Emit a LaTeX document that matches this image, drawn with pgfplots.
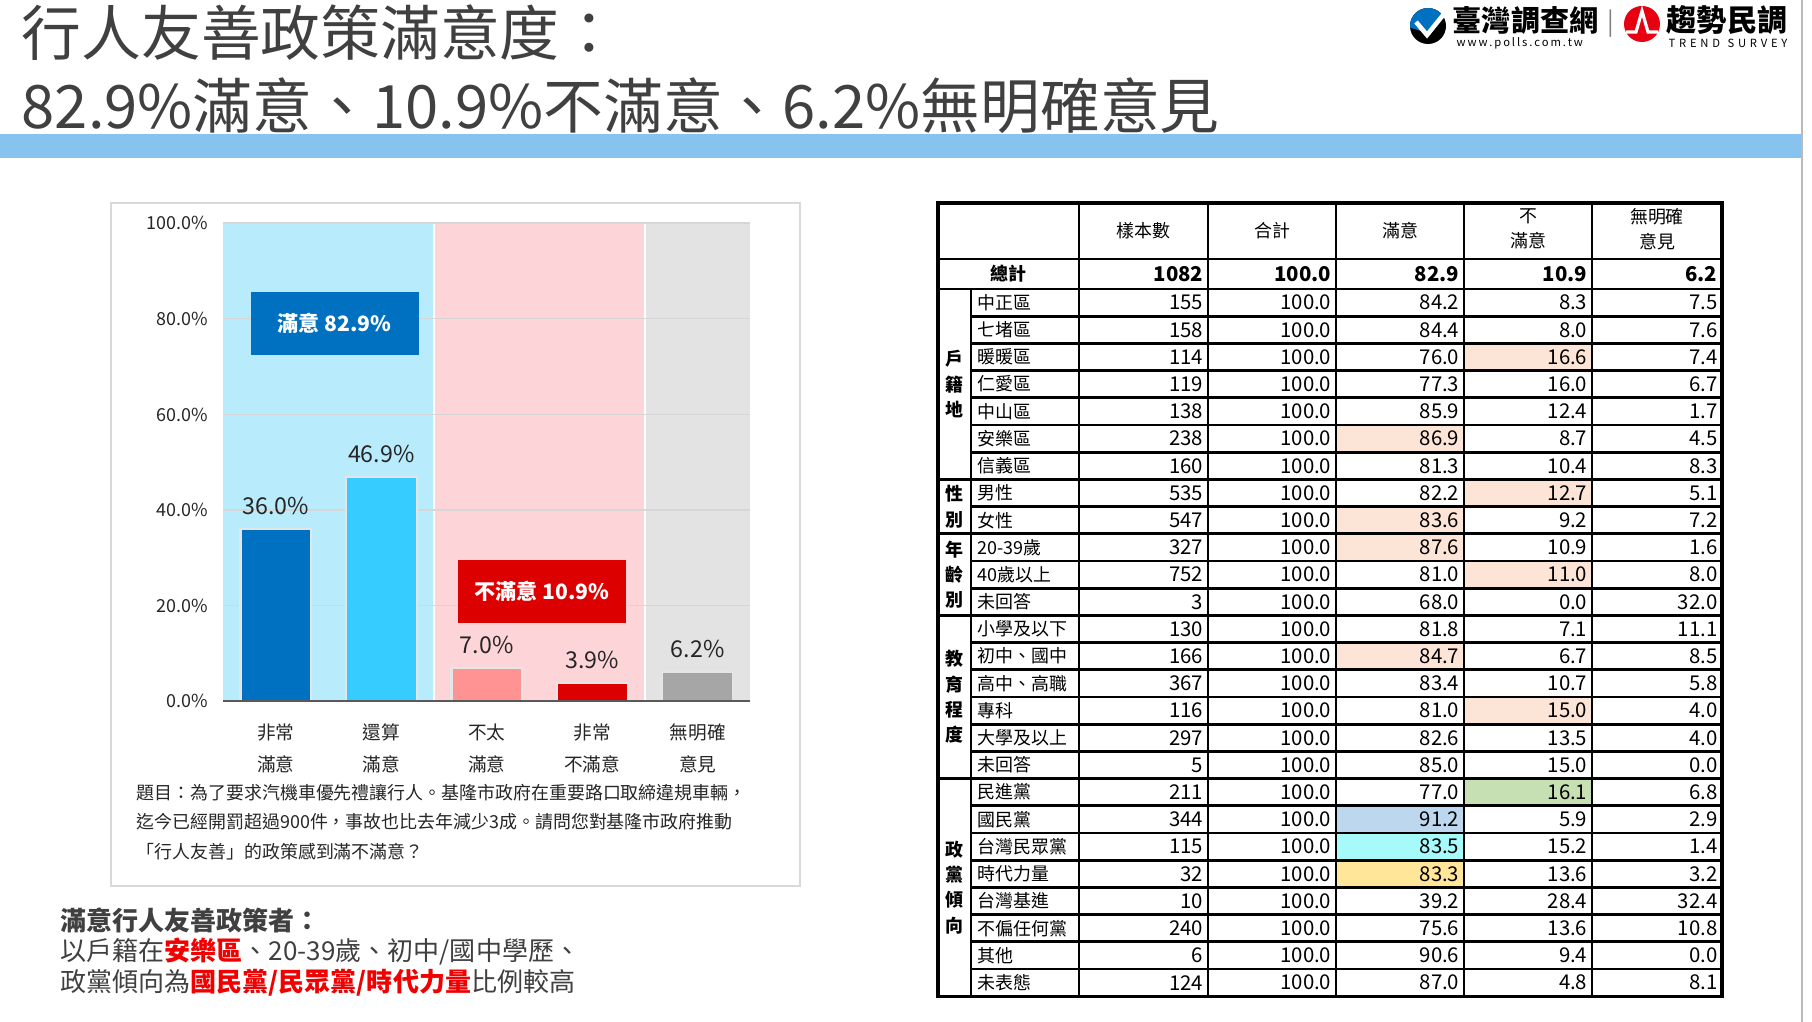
\documentclass[border=0pt]{standalone}
\usepackage{fontspec}
\setmainfont{Noto Sans CJK TC}
\usepackage{pgfplots}
\pgfplotsset{compat=1.18}
\definecolor{titlegray}{HTML}{404040}
\definecolor{band}{HTML}{87C3EE}
\definecolor{cA}{HTML}{0070C0}
\definecolor{cB}{HTML}{37CCFF}
\definecolor{cC}{HTML}{FF9393}
\definecolor{cD}{HTML}{DD0000}
\definecolor{cE}{HTML}{A6A6A6}
\definecolor{bgA}{HTML}{B8ECFC}
\definecolor{bgB}{HTML}{FDD5D8}
\definecolor{bgC}{HTML}{E3E3E3}
\definecolor{gridc}{HTML}{D6D6D6}
\definecolor{peach}{HTML}{FCE4D6}
\definecolor{hlgreen}{HTML}{C6E0B4}
\definecolor{hlblue}{HTML}{BDD7EE}
\definecolor{hlcyan}{HTML}{A6FAFA}
\definecolor{hlyellow}{HTML}{FFE699}
\definecolor{hired}{HTML}{F00000}
\definecolor{logored}{HTML}{E60012}
\newcommand\fs[2]{\fontsize{#1}{#2}\selectfont}
\newcommand\hl[4]{\fill[#4] (#2,{289+(#1-1)*27.2}) rectangle (#3,{289+#1*27.2});}
\begin{document}
\begin{tikzpicture}
\begin{scope}[x=0.01cm,y=-0.01cm]
\path[use as bounding box] (0,0) rectangle (1812,1022);
\fill[white] (0,0) rectangle (1812,1022);
% titles
\node[anchor=west, inner sep=0pt, text=titlegray, font=\fs{17}{20}] at (21,33) {行人友善政策滿意度：};
\node[anchor=west, inner sep=0pt, text=titlegray, font=\fs{17}{20}] at (21,106) {82.9\%滿意、10.9\%不滿意、6.2\%無明確意見};
\fill[band] (0,134) rectangle (1801,158);
\draw[gray!55, line width=0.6pt] (1802,0) -- (1802,1022);
% logo
\fill[black] (1428,26) circle (18);
\begin{scope}
\clip (1428,26) circle (18);
\fill[cA] (1405,0) -- (1455,0) -- (1446,16) -- (1427,33) -- (1405,26) -- cycle;
\end{scope}
\draw[white, line width=1.3pt] (1416,22) -- (1427,35) -- (1452,4);
\node[anchor=west, inner sep=0pt, font=\fs{8.3}{9}\bfseries] at (1452,20) {臺灣調查網};
\node[anchor=west, inner sep=0pt, font=\fs{3.2}{4}] at (1456,43) {w\,w\,w\,.\,p\,o\,l\,l\,s\,.\,c\,o\,m\,.\,t\,w};
\node[inner sep=0pt, text=gray, font=\fs{7}{8}] at (1611,24) {|};
\fill[logored] (1642,24) circle (18);
\draw[white, line width=0.9pt] (1626,32) -- (1636,32) -- (1642,11) -- (1648,32) -- (1658,32);
\node[anchor=west, inner sep=0pt, font=\fs{8.6}{9}\bfseries] at (1666,20) {趨勢民調};
\node[anchor=west, inner sep=0pt, font=\fs{3.2}{4}] at (1668,43) {T\,\,R\,\,E\,\,N\,\,D\,\,\,\,S\,\,U\,\,R\,\,V\,\,E\,\,Y};
% chart box
\draw[gray!30, line width=0.6pt] (111,203) rectangle (800,886);
\end{scope}

\begin{axis}[
  at={(2.23cm,-7.01cm)}, anchor=south west,
  scale only axis, width=5.27cm, height=4.78cm,
  xmin=-0.5, xmax=4.5, ymin=0, ymax=100,
  axis line style={draw=none}, tick style={draw=none},
  clip=false,
  ytick={0,20,40,60,80,100},
  yticklabels={0.0\%,20.0\%,40.0\%,60.0\%,80.0\%,100.0\%},
  yticklabel style={font=\fs{5.1}{6}, text=black!85, xshift=-0.03cm},
  xtick={0,1,2,3,4},
  xticklabels={{非常\\滿意},{還算\\滿意},{不太\\滿意},{非常\\不滿意},{無明確\\意見}},
  xticklabel style={align=center, font=\fs{5.3}{9.1}, text=black!85, yshift=0.05cm},
  ybar, bar width=0.67,
  /pgf/number format/assume math mode=true,
  nodes near coords={\pgfmathprintnumber[fixed,fixed zerofill,precision=1]{\pgfplotspointmeta}\%},
  every node near coord/.append style={font=\fs{6.6}{7}, text=black!85, anchor=south, inner sep=0pt, yshift=0.13cm},
]
\fill[bgA] (axis cs:-0.5,0) rectangle (axis cs:1.5,100);
\fill[bgB] (axis cs:1.5,0) rectangle (axis cs:3.5,100);
\fill[bgC] (axis cs:3.5,0) rectangle (axis cs:4.5,100);
\draw[white, line width=0.5pt] (axis cs:1.5,0) -- (axis cs:1.5,100);
\draw[white, line width=0.5pt] (axis cs:3.5,0) -- (axis cs:3.5,100);
\draw[gridc, line width=0.4pt] (axis cs:-0.5,20) -- (axis cs:4.5,20);
\draw[gridc, line width=0.4pt] (axis cs:-0.5,40) -- (axis cs:4.5,40);
\draw[gridc, line width=0.4pt] (axis cs:-0.5,60) -- (axis cs:4.5,60);
\draw[gridc, line width=0.4pt] (axis cs:-0.5,80) -- (axis cs:4.5,80);
\draw[gridc, line width=0.4pt] (axis cs:-0.5,100) -- (axis cs:4.5,100);
\addplot[fill=cA, draw=white!90!black, line width=0.6pt, bar shift=0pt] coordinates {(0,36.0)};
\addplot[fill=cB, draw=white!90!black, line width=0.6pt, bar shift=0pt] coordinates {(1,46.9)};
\addplot[fill=cC, draw=white!90!black, line width=0.6pt, bar shift=0pt] coordinates {(2,7.0)};
\addplot[fill=cD, draw=white!90!black, line width=0.6pt, bar shift=0pt] coordinates {(3,3.9)};
\addplot[fill=cE, draw=white!90!black, line width=0.6pt, bar shift=0pt] coordinates {(4,6.2)};
\draw[black!65, line width=0.6pt] (axis cs:-0.5,0) -- (axis cs:4.5,0);
\node[fill=cA, text=white, font=\fs{6}{7}\bfseries, minimum width=1.68cm, minimum height=0.63cm, inner sep=0pt] at (axis cs:0.558,79.1) {滿意 82.9\%};
\node[fill=cD, text=white, font=\fs{6}{7}\bfseries, minimum width=1.68cm, minimum height=0.63cm, inner sep=0pt] at (axis cs:2.521,22.95) {不滿意 10.9\%};
\end{axis}

\begin{scope}[x=0.01cm,y=-0.01cm]
% question
\node[anchor=west, inner sep=0pt, font=\fs{5.1}{6}, text=black!85] at (136,793) {題目：為了要求汽機車優先禮讓行人。基隆市政府在重要路口取締違規車輛，};
\node[anchor=west, inner sep=0pt, font=\fs{5.1}{6}, text=black!85] at (136,822) {迄今已經開罰超過900件，事故也比去年減少3成。請問您對基隆市政府推動};
\node[anchor=west, inner sep=0pt, font=\fs{5.1}{6}, text=black!85] at (136,852) {「行人友善」的政策感到滿不滿意？};
% bottom text
\node[anchor=west, inner sep=0pt, font=\fs{7.4}{8}\bfseries, text=titlegray] at (60,920) {滿意行人友善政策者：};
\node[anchor=west, inner sep=0pt, font=\fs{7.4}{8}, text=titlegray] at (60,952) {以戶籍在{\color{hired}\bfseries 安樂區}、20-39歲、初中/國中學歷、};
\node[anchor=west, inner sep=0pt, font=\fs{7.4}{8}, text=titlegray] at (60,983) {政黨傾向為{\color{hired}\bfseries 國民黨/民眾黨/時代力量}比例較高};

% table highlights
\hl{3}{1464}{1592}{peach}
\hl{6}{1336}{1464}{peach}
\hl{8}{1464}{1592}{peach}
\hl{9}{1336}{1464}{peach}
\hl{10}{1336}{1464}{peach}
\hl{11}{1464}{1592}{peach}
\hl{14}{1336}{1464}{peach}
\hl{16}{1464}{1592}{peach}
\hl{19}{1464}{1592}{hlgreen}
\hl{20}{1336}{1464}{hlblue}
\hl{21}{1336}{1464}{hlcyan}
\hl{22}{1336}{1464}{hlyellow}
% header
\node[font=\fs{5.1}{7}] at (1143.5,231) {樣本數};
\node[font=\fs{5.1}{7}] at (1272,231) {合計};
\node[font=\fs{5.1}{7}] at (1400,231) {滿意};
\node[font=\fs{5.1}{7}, align=center] at (1528,229) {不\\滿意};
\node[font=\fs{5.1}{7}, align=center] at (1657,229) {無明確\\意見};
% total row
\node[font=\fs{5.1}{7}\bfseries] at (1008.5,274) {總計};
\node[anchor=east, inner sep=0pt, font=\fs{5.8}{7}\bfseries] at (1204,274) {1082};
\node[anchor=east, inner sep=0pt, font=\fs{5.8}{7}\bfseries] at (1332,274) {100.0};
\node[anchor=east, inner sep=0pt, font=\fs{5.8}{7}\bfseries] at (1460,274) {82.9};
\node[anchor=east, inner sep=0pt, font=\fs{5.8}{7}\bfseries] at (1588,274) {10.9};
\node[anchor=east, inner sep=0pt, font=\fs{5.8}{7}\bfseries] at (1718,274) {6.2};
% rows
\foreach \r/\lab/\n/\s/\d/\u in {
1/中正區/155/84.2/8.3/7.5,
2/七堵區/158/84.4/8.0/7.6,
3/暖暖區/114/76.0/16.6/7.4,
4/仁愛區/119/77.3/16.0/6.7,
5/中山區/138/85.9/12.4/1.7,
6/安樂區/238/86.9/8.7/4.5,
7/信義區/160/81.3/10.4/8.3,
8/男性/535/82.2/12.7/5.1,
9/女性/547/83.6/9.2/7.2,
10/20-39歲/327/87.6/10.9/1.6,
11/40歲以上/752/81.0/11.0/8.0,
12/未回答/3/68.0/0.0/32.0,
13/小學及以下/130/81.8/7.1/11.1,
14/初中、國中/166/84.7/6.7/8.5,
15/高中、高職/367/83.4/10.7/5.8,
16/專科/116/81.0/15.0/4.0,
17/大學及以上/297/82.6/13.5/4.0,
18/未回答/5/85.0/15.0/0.0,
19/民進黨/211/77.0/16.1/6.8,
20/國民黨/344/91.2/5.9/2.9,
21/台灣民眾黨/115/83.5/15.2/1.4,
22/時代力量/32/83.3/13.6/3.2,
23/台灣基進/10/39.2/28.4/32.4,
24/不偏任何黨/240/75.6/13.6/10.8,
25/其他/6/90.6/9.4/0.0,
26/未表態/124/87.0/4.8/8.1}{
  \pgfmathsetmacro\yc{289+(\r-0.5)*27.2}
  \node[anchor=west, inner sep=0pt, font=\fs{5.1}{7}] at (977,\yc) {\lab};
  \node[anchor=east, inner sep=0pt, font=\fs{5.8}{7}] at (1204,\yc) {\n};
  \node[anchor=east, inner sep=0pt, font=\fs{5.8}{7}] at (1332,\yc) {100.0};
  \node[anchor=east, inner sep=0pt, font=\fs{5.8}{7}] at (1460,\yc) {\s};
  \node[anchor=east, inner sep=0pt, font=\fs{5.8}{7}] at (1588,\yc) {\d};
  \node[anchor=east, inner sep=0pt, font=\fs{5.8}{7}] at (1718,\yc) {\u};
  \draw[black, line width=0.75pt] (971,{289+\r*27.2}) -- (1722,{289+\r*27.2});
}
% group labels
\node[font=\fs{5.1}{7.2}\bfseries, align=center, inner sep=0pt] at (954.5,384.2) {戶\\籍\\地};
\node[font=\fs{5.1}{7.2}\bfseries, align=center, inner sep=0pt] at (954.5,506.6) {性\\別};
\node[font=\fs{5.1}{7.2}\bfseries, align=center, inner sep=0pt] at (954.5,574.6) {年\\齡\\別};
\node[font=\fs{5.1}{7.2}\bfseries, align=center, inner sep=0pt] at (954.5,697) {教\\育\\程\\度};
\node[font=\fs{5.1}{7.2}\bfseries, align=center, inner sep=0pt] at (954.5,887.4) {政\\黨\\傾\\向};
% table lines
\draw[black, line width=0.8pt] (938,259) -- (1722,259);
\draw[black, line width=0.8pt] (938,289) -- (1722,289);
\draw[black, line width=0.8pt] (938,479.4) -- (1722,479.4);
\draw[black, line width=0.8pt] (938,533.8) -- (1722,533.8);
\draw[black, line width=0.8pt] (938,615.4) -- (1722,615.4);
\draw[black, line width=0.8pt] (938,778.6) -- (1722,778.6);
\draw[black, line width=0.8pt] (971,289) -- (971,996.2);
\foreach \xx in {1079,1208,1336,1464,1592} {\draw[black, line width=0.8pt] (\xx,203) -- (\xx,996.2);}
\draw[black, line width=0.9pt] (938,203) rectangle (1722,996.2);
\end{scope}
\end{tikzpicture}
\end{document}
